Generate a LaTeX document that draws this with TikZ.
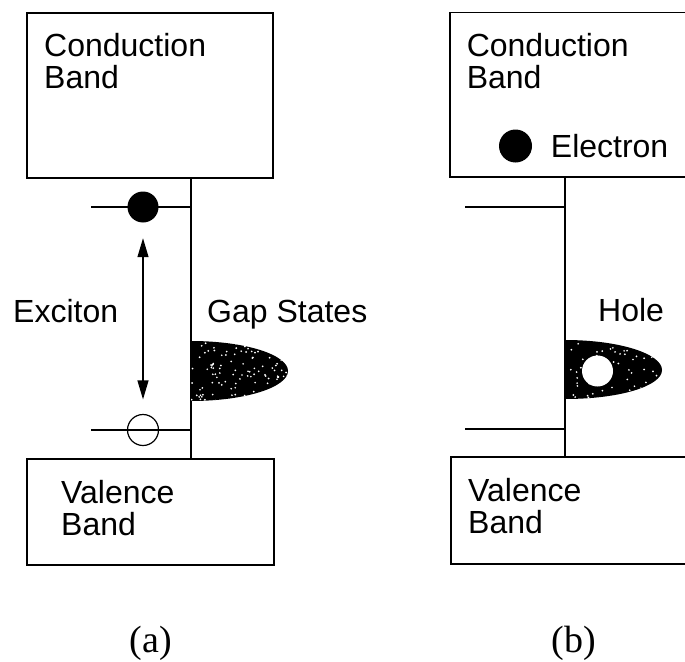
\documentclass[tikz,border=0pt]{standalone}
\usepackage{fontspec}
\setmainfont{Liberation Sans}
\newfontfamily\capfont{Liberation Serif}
\usetikzlibrary{arrows.meta, positioning}

\begin{document}
\begin{tikzpicture}[x=1pt, y=-1pt,
    band/.style={draw, rectangle, line width=1.8pt, inner sep=0pt},
    lbl/.style={font=\fontsize{32}{32}\selectfont, inner sep=0pt, align=left},
    panelcap/.style={font=\capfont\fontsize{38}{40}\selectfont, inner sep=0pt, anchor=base},
    level/.style={line width=1.8pt},
    electron/.style={circle, fill=black, minimum size=31pt, inner sep=0pt},
    hole/.style={circle, draw, line width=1.2pt, minimum size=31pt, inner sep=0pt},
    pair/.style={line width=1.2pt, {Triangle[length=19pt, width=11pt]}-{Triangle[length=19pt, width=11pt]}}]

    % 0. 画布大小与参考图一致 (685 x 661)，(b) 的方框右边被裁掉
    \useasboundingbox (0,0) rectangle (685,661);
    \clip (0,0) rectangle (685,661);
    \pgfmathsetseed{17}

    % 1. (a) 导带与价带两个方框，中间竖线连接
    \node[band, minimum width=246pt, minimum height=165pt] (cbA) at (150,95.5) {};
    \node[band, minimum width=247pt, minimum height=106pt] (vbA) at (150.5,512) {};
    \node[lbl, anchor=north west] (cbAtext) at (44,33) {Conduction\\Band};
    \node[lbl, anchor=north west] (vbAtext) at (61,480) {Valence\\Band};
    \coordinate (axA) at (191,0);
    \draw[level] (cbA.south -| axA) -- (vbA.north -| axA);

    % 2. (a) 两条能级线，上面是电子 (实心)，下面是空穴 (空心)
    \node[electron] (eA) at (143,207) {};
    \node[hole] (hA) at (143,430) {};
    \coordinate (lvA1) at (91,207);
    \coordinate (lvA2) at (91,430);
    \draw[level] (lvA1) -- (lvA1 -| axA);
    \draw[level] (lvA2) -- (lvA2 -| axA);
    \draw[pair, shorten <=15.5pt, shorten >=14.5pt] (eA) -- (hA);
    \node[lbl, anchor=base west] (excA) at (13,322.5) {Exciton};
    \node[lbl, anchor=base west] (gapA) at (207,322.5) {Gap States};

    % 3. (a) 带隙态：黑色半椭圆，加白色小点
    \fill (191,341) .. controls (246,341) and (288,355) .. (288,371)
          .. controls (288,387) and (246,401) .. (191,401) -- cycle;
    \begin{scope}
        \clip (191,341) .. controls (246,341) and (288,355) .. (288,371)
              .. controls (288,387) and (246,401) .. (191,401) -- cycle;
        \foreach \i in {1,...,120}
            \fill[white] ({240+49*rand},{371+30*rand}) circle (0.95);
    \end{scope}
    \node[panelcap] (capA) at (151,652) {(a)};

    % 4. (b) 导带与价带方框 (右侧超出画面)
    \node[band, minimum width=250pt, minimum height=164.4pt] (cbB) at (575,94.8) {};
    \node[band, minimum width=249pt, minimum height=107pt] (vbB) at (575.5,510.5) {};
    \node[lbl, anchor=north west] (cbBtext) at (466.6,33) {Conduction\\Band};
    \node[lbl, anchor=north west] (vbBtext) at (468,478.5) {Valence\\Band};
    \coordinate (axB) at (565,0);
    \draw[level] (cbB.south -| axB) -- (vbB.north -| axB);

    % 5. (b) 电子跃迁到导带，空能级线
    \node[electron, minimum size=33pt] (eB) at (515.5,146) {};
    \node[lbl, right=18.5pt of eB] (eBtext) {Electron};
    \coordinate (lvB1) at (465,207);
    \coordinate (lvB2) at (465,429);
    \draw[level] (lvB1) -- (lvB1 -| axB);
    \draw[level] (lvB2) -- (lvB2 -| axB);
    \node[lbl, anchor=base west] (holeB) at (598,321.5) {Hole};

    % 6. (b) 带隙态，空穴留在其中 (白色圆)
    \fill (565,340) .. controls (620,340) and (662,354) .. (662,370)
          .. controls (662,386) and (620,399) .. (565,399) -- cycle;
    \begin{scope}
        \clip (565,340) .. controls (620,340) and (662,354) .. (662,370)
              .. controls (662,386) and (620,399) .. (565,399) -- cycle;
        \foreach \i in {1,...,50}
            \fill[white] ({615+48*rand},{370+29*rand}) circle (0.95);
    \end{scope}
    \node[circle, fill=white, minimum width=31pt, minimum height=29pt, inner sep=0pt] (hB) at (597.5,371) {};
    \node[panelcap] (capB) at (574,652) {(b)};

\end{tikzpicture}
\end{document}
